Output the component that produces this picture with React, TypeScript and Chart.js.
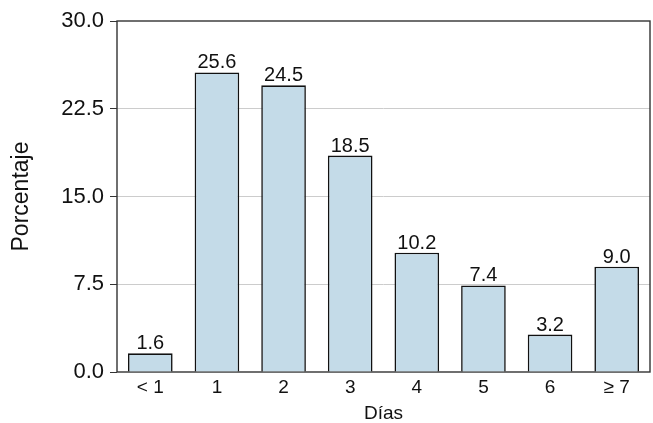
import React, { useEffect, useRef } from 'react';
import { Chart, registerables } from 'chart.js';

Chart.register(...registerables);

const categories = ['< 1', '1', '2', '3', '4', '5', '6', '≥ 7'];
const percentages = [1.6, 25.6, 24.5, 18.5, 10.2, 7.4, 3.2, 9.0];
const yTickValues = [0, 7.5, 15, 22.5, 30];

const FONT = "'Liberation Sans', Arial, sans-serif";
const INK = '#111';
const FRAME = '#333';

// draws the box around the plot area
const frame = {
  id: 'frame',
  beforeDatasetsDraw(chart: any) {
    const { ctx, chartArea: a } = chart;
    ctx.save();
    ctx.strokeStyle = FRAME;
    ctx.lineWidth = 1.4;
    ctx.strokeRect(a.left, a.top, a.right - a.left, a.bottom - a.top);
    ctx.restore();
  },
};

// numbers above each bar
const valueLabels = {
  id: 'valueLabels',
  afterDatasetsDraw(chart: any) {
    const { ctx } = chart;
    const meta = chart.getDatasetMeta(0);
    ctx.save();
    ctx.font = `20px ${FONT}`;
    ctx.fillStyle = INK;
    ctx.textAlign = 'center';
    ctx.textBaseline = 'alphabetic';
    meta.data.forEach((bar: any, i: number) => {
      ctx.fillText(percentages[i].toFixed(1), bar.x, bar.y - 4);
    });
    ctx.restore();
  },
};

export default function App() {
  const canvasRef = useRef<HTMLCanvasElement>(null);

  useEffect(() => {
    if (!canvasRef.current) return;

    const chart = new Chart(canvasRef.current, {
      type: 'bar',
      data: {
        labels: categories,
        datasets: [{
          data: percentages,
          backgroundColor: '#c4dbe8',
          borderColor: '#111',
          borderWidth: 1.6,
          categoryPercentage: 1,
          barPercentage: 0.67,
        }],
      },
      options: {
        animation: false,
        responsive: true,
        maintainAspectRatio: false,
        layout: { padding: { top: 21, right: 3, left: 0, bottom: 0 } },
        plugins: {
          legend: { display: false },
          tooltip: { enabled: false },
        },
        scales: {
          x: {
            grid: { display: false, drawTicks: false },
            border: { display: false },
            ticks: {
              padding: 4,
              color: INK,
              font: { family: FONT, size: 19 },
              maxRotation: 0,
            },
            title: {
              display: true,
              text: 'Días',
              color: INK,
              font: { family: FONT, size: 19, lineHeight: 1 },
              padding: { top: 0, bottom: 0 },
            },
            afterFit: (scale: any) => { scale.height = 51; },
          },
          y: {
            min: 0,
            max: 30,
            afterBuildTicks: (scale: any) => {
              scale.ticks = yTickValues.map((v) => ({ value: v }));
            },
            grid: {
              color: (c: any) =>
                c.tick && (c.tick.value === 0 || c.tick.value === 30) ? 'rgba(0,0,0,0)' : '#cccccc',
              tickColor: FRAME,
              tickLength: 7,
              lineWidth: 1,
            },
            border: { display: false },
            ticks: {
              padding: 6,
              color: INK,
              font: { family: FONT, size: 22 },
              callback: (v: any) => Number(v).toFixed(1),
            },
            title: {
              display: true,
              text: 'Porcentaje',
              color: INK,
              font: { family: FONT, size: 23, lineHeight: 1 },
              padding: { top: 10, bottom: 0 },
            },
            afterFit: (scale: any) => { scale.width = 117; },
          },
        },
      },
      plugins: [frame, valueLabels],
    });

    return () => {
      chart.destroy();
    };
  }, []);

  return (
    <div style={{ position: 'fixed', left: 0, top: 0, width: 653, height: 423, background: '#fff' }}>
      <canvas ref={canvasRef} />
    </div>
  );
}
